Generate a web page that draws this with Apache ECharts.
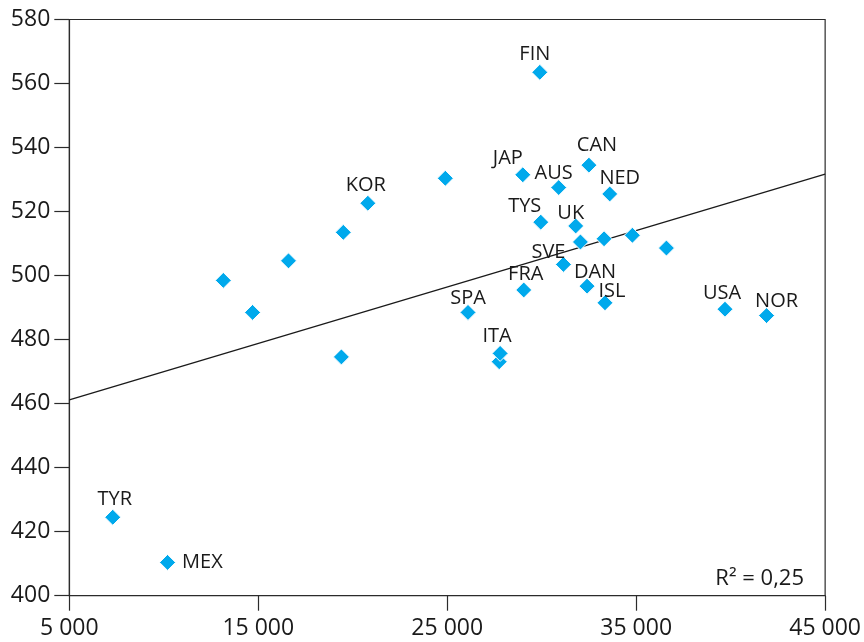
<!DOCTYPE html>
<html>
<head>
<meta charset="utf-8">
<script src="https://cdn.jsdelivr.net/npm/echarts@6/dist/echarts.min.js"></script>
<style>
  html, body { margin: 0; padding: 0; background: #fff; }
  #chart { width: 864px; height: 642px; }
</style>
</head>
<body>
<div id="chart"></div>
<script>
// 国家代码（空字符串 = 无标签的点）
const countries = ['FIN', 'JAP', 'AUS', 'CAN', '', 'KOR', 'NED', 'UK', 'TYS', '', '', '', '',
  'SVE', 'DAN', 'ISL', 'USA', 'NOR', 'FRA', 'SPA', '', 'ITA', '', '', '', '', '', 'TYR', 'MEX']
// 人均GDP
const gdp = [29900, 29000, 30900, 32500, 24900, 20800, 33600, 31800, 29950, 32050, 33300, 34800, 36600,
  31150, 32400, 33350, 39700, 41900, 29050, 26100, 27750, 27800, 19500, 16600, 13150, 14700, 19400, 7300, 10200]
// 得分
const scores = [563.5, 531.5, 527.5, 534.5, 530.4, 522.6, 525.5, 515.5, 516.7, 510.5, 511.5, 512.6, 508.6,
  503.5, 496.7, 491.5, 489.5, 487.5, 495.5, 488.5, 473.1, 475.7, 513.5, 504.6, 498.5, 488.5, 474.6, 424.5, 410.4]

// 趋势线端点
const trendX = [5000, 45000]
const trendY = [461.2, 531.7]

const xTicks = [5000, 15000, 25000, 35000, 45000]
const yTicks = [400, 420, 440, 460, 480, 500, 520, 540, 560, 580]
const r2Text = 'R² = 0,25'

// 标签微调（像素）
const labelShift = {
  FIN: [-5, -2], JAP: [-15, 0], AUS: [-5, 2], CAN: [8, -3], NED: [10, 1], KOR: [-2, -1],
  TYS: [-16, 1], UK: [-5, 4], SVE: [-15, 4], FRA: [2, 1], DAN: [8, 3], ISL: [7, 5],
  USA: [-3, 1], NOR: [10, 2], SPA: [0, 2], ITA: [-3, -1], TYR: [2, -1]
}

const FONT = '"Open Sans", "Noto Sans", sans-serif'
const TEXT = '#1a1a1a'
const AXIS = '#2b2b2b'

const fmtThousands = v => String(v).replace(/\B(?=(\d{3})+(?!\d))/g, ' ')

const labelBase = { show: true, fontFamily: FONT, fontSize: 20, color: TEXT }

const points = gdp.map((g, i) => {
  const name = countries[i]
  const item = { value: [g, scores[i]], name: name }
  if (!name) {
    item.label = { show: false }
  } else if (name === 'MEX') {
    item.label = Object.assign({}, labelBase, { position: 'right', distance: 6, formatter: name })
  } else {
    const s = labelShift[name] || [0, 0]
    item.label = Object.assign({}, labelBase, { position: 'top', distance: 0, offset: [s[0], s[1] + 2], formatter: name })
  }
  return item
})

const chart = echarts.init(document.getElementById('chart'), null, { renderer: 'canvas' })
chart.setOption({
  animation: false,
  backgroundColor: '#fff',
  grid: {
    left: 69.3, right: 38.3, top: 19.5, bottom: 46.3,
    show: true, borderColor: AXIS, borderWidth: 1.2, backgroundColor: 'transparent'
  },
  xAxis: {
    type: 'value',
    min: xTicks[0], max: xTicks[xTicks.length - 1], interval: 10000,
    axisLine: { show: true, onZero: false, lineStyle: { color: AXIS, width: 1.2 } },
    axisTick: { show: true, inside: false, length: 15, lineStyle: { color: AXIS, width: 1.2 } },
    axisLabel: {
      formatter: fmtThousands, margin: 21,
      fontFamily: FONT, fontSize: 23, color: TEXT,
      showMinLabel: true, showMaxLabel: true
    },
    splitLine: { show: false }
  },
  yAxis: {
    type: 'value',
    min: yTicks[0], max: yTicks[yTicks.length - 1], interval: 20,
    axisLine: { show: true, onZero: false, lineStyle: { color: AXIS, width: 1.2 } },
    axisTick: { show: true, inside: false, length: 15, lineStyle: { color: AXIS, width: 1.2 } },
    axisLabel: { margin: 19, fontFamily: FONT, fontSize: 23, color: TEXT },
    splitLine: { show: false }
  },
  series: [
    {
      type: 'line',
      data: trendX.map((x, i) => [x, trendY[i]]),
      symbol: 'none',
      lineStyle: { color: '#1a1a1a', width: 1.3 },
      silent: true,
      z: 1
    },
    {
      type: 'scatter',
      data: points,
      symbol: 'diamond',
      symbolSize: 16,
      itemStyle: { color: '#00a9ec', borderColor: '#fff', borderWidth: 1, opacity: 1 },
      label: labelBase,
      z: 3
    }
  ],
  graphic: [{
    type: 'text',
    right: 60, bottom: 52,
    style: { text: r2Text, font: '22px ' + FONT, fill: TEXT }
  }]
})
</script>
</body>
</html>
